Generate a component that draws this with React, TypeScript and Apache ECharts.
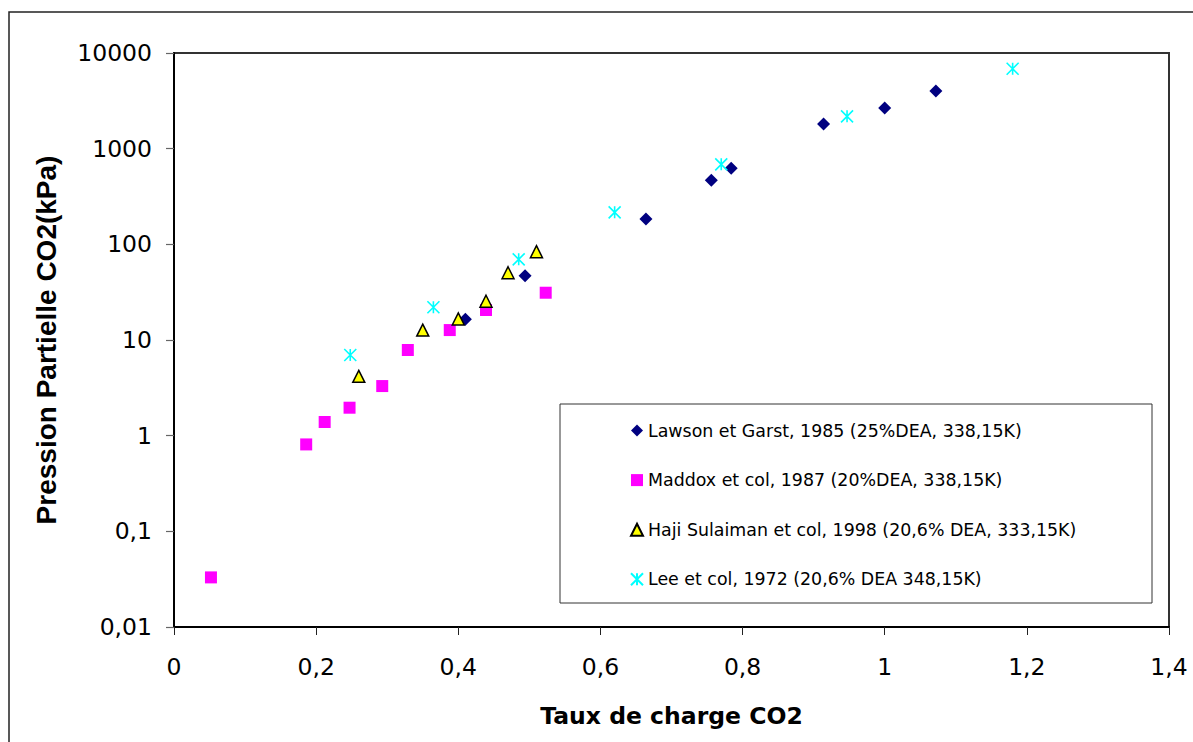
import React, { useEffect, useRef } from 'react';
import * as echarts from 'echarts';

const seriesNames = [
  'Lawson et Garst, 1985 (25%DEA, 338,15K)',
  'Maddox et col, 1987 (20%DEA, 338,15K)',
  'Haji Sulaiman et col, 1998 (20,6% DEA, 333,15K)',
  'Lee et col, 1972 (20,6% DEA 348,15K)',
];

const lawson: number[][] = [
  [0.410, 16.5], [0.494, 47], [0.664, 184], [0.756, 467],
  [0.784, 623], [0.914, 1810], [1.000, 2660], [1.072, 4005],
];
const maddox: number[][] = [
  [0.052, 0.033], [0.186, 0.81], [0.212, 1.39], [0.247, 1.96], [0.293, 3.3],
  [0.329, 7.86], [0.388, 12.7], [0.439, 20.6], [0.523, 31.2],
];
const haji: number[][] = [
  [0.260, 4.17], [0.350, 12.7], [0.400, 16.6], [0.439, 25.4], [0.470, 50.5], [0.510, 83.8],
];
const lee: number[][] = [
  [0.248, 6.97], [0.365, 22], [0.485, 69.7], [0.620, 216], [0.770, 686], [0.947, 2178], [1.180, 6850],
];

const xMin = 0;
const xMax = 1.4;
const xInterval = 0.2;
const yMin = 0.01;
const yMax = 10000;

const fmt = (v: number) => String(Number(Number(v).toPrecision(6))).replace('.', ',');

export default function App() {
  const ref = useRef<HTMLDivElement>(null);
  useEffect(() => {
    const chart = echarts.init(ref.current!, null, { renderer: 'svg' });
    const labelFont = 'DejaVu Sans';
    chart.setOption({
      animation: false,
      backgroundColor: '#ffffff',
      graphic: [
        {
          type: 'rect',
          shape: { x: 9, y: 12, width: 1200, height: 740 },
          style: { fill: 'none', stroke: '#222', lineWidth: 1.5 },
          silent: true,
          z: -1,
        },
        {
          type: 'rect',
          shape: { x: 560, y: 404, width: 592, height: 199 },
          style: { fill: '#fff', stroke: '#333', lineWidth: 1 },
          silent: true,
          z: 1,
        },
      ],
      grid: {
        left: 174, top: 53, width: 995, height: 574,
        show: true, borderColor: '#333', borderWidth: 2, backgroundColor: 'transparent',
      },
      xAxis: {
        type: 'value',
        min: xMin, max: xMax, interval: xInterval,
        name: 'Taux de charge CO2',
        nameLocation: 'middle',
        nameGap: 77,
        nameTextStyle: { fontFamily: labelFont, fontWeight: 'bold', fontSize: 23.5, color: '#000' },
        axisLine: { show: true, lineStyle: { color: '#000', width: 2 } },
        axisTick: { show: true, length: 8, lineStyle: { color: '#222', width: 1 } },
        axisLabel: { margin: 28, fontFamily: labelFont, fontSize: 23.5, color: '#000', formatter: fmt },
        splitLine: { show: false },
      },
      yAxis: {
        type: 'log',
        logBase: 10,
        min: yMin, max: yMax,
        name: 'Pression Partielle CO2(kPa)',
        nameLocation: 'middle',
        nameGap: 114,
        nameTextStyle: { fontFamily: 'Liberation Sans', fontWeight: 'bold', fontSize: 28, color: '#000' },
        axisLine: { show: true, lineStyle: { color: '#000', width: 2 } },
        axisTick: { show: true, length: 8, lineStyle: { color: '#666', width: 1.2 } },
        axisLabel: { margin: 22, fontFamily: labelFont, fontSize: 23.5, color: '#000', formatter: fmt },
        splitLine: { show: false },
        minorTick: { show: false },
      },
      legend: {
        orient: 'vertical',
        left: 630,
        top: 422,
        padding: 0,
        itemWidth: 12,
        itemHeight: 12,
        itemGap: 32.6,
        selectedMode: false,
        z: 5,
        textStyle: { fontFamily: labelFont, fontSize: 17.4, color: '#000' },
        data: seriesNames,
      },
      series: [
        {
          name: seriesNames[0], type: 'scatter', data: lawson,
          symbol: 'diamond', symbolSize: 13,
          itemStyle: { color: '#000080', opacity: 1 },
        },
        {
          name: seriesNames[1], type: 'scatter', data: maddox,
          symbol: 'rect', symbolSize: 12,
          itemStyle: { color: '#FF00FF', opacity: 1 },
        },
        {
          name: seriesNames[2], type: 'scatter', data: haji,
          symbol: 'triangle', symbolSize: 12,
          itemStyle: { color: '#FFFF00', borderColor: '#000', borderWidth: 1.5, opacity: 1 },
        },
        {
          name: seriesNames[3], type: 'scatter', data: lee,
          symbol: 'path://M0,0L10,10M10,0L0,10M5,0L5,10', symbolSize: 12,
          itemStyle: { color: 'rgba(0,0,0,0)', borderColor: '#00FFFF', borderWidth: 1.6, opacity: 1 },
        },
      ],
    });
    return () => chart.dispose();
  }, []);
  return <div ref={ref} style={{ position: 'fixed', left: 0, top: 0, width: 1193, height: 742 }} />;
}
